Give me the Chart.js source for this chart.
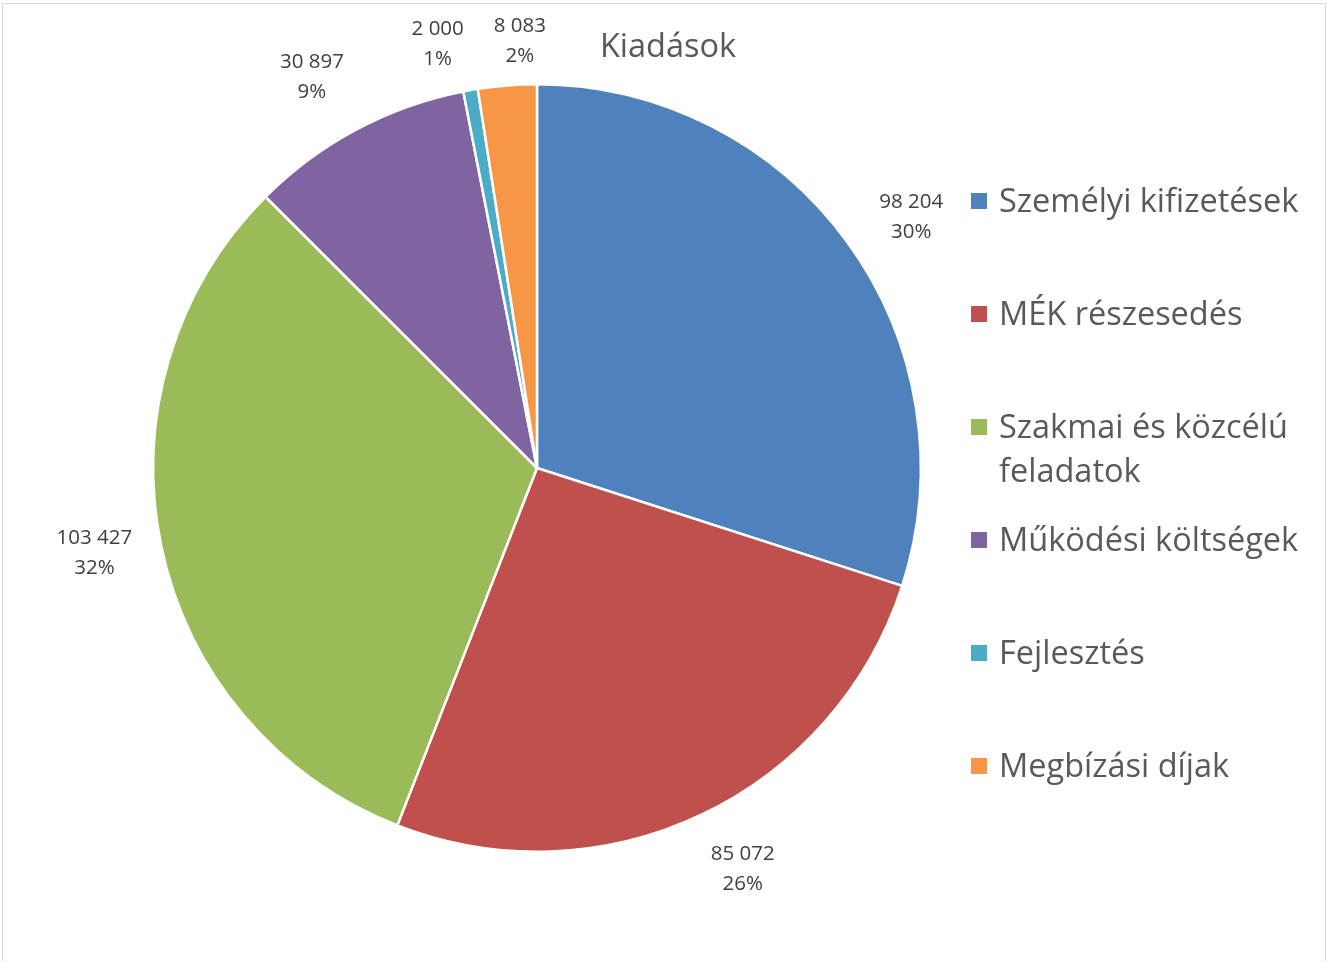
<!DOCTYPE html>
<html>
<head>
<meta charset="utf-8">
<script src="https://cdn.jsdelivr.net/npm/chart.js@4"></script>
<style>
  html, body { margin: 0; padding: 0; background: #fff; }
  #wrap { width: 1329px; height: 961px; position: relative; }
</style>
</head>
<body>
<div id="wrap"><canvas id="pie"></canvas></div>
<script>
var title = 'Kiadások';
var categories = ['Személyi kifizetések', 'MÉK részesedés', 'Szakmai és közcélú feladatok',
                  'Működési költségek', 'Fejlesztés', 'Megbízási díjak'];
var values = [98204, 85072, 103427, 30897, 2000, 8083];
var colors = ['#4f81bd', '#c0504d', '#9bbb59', '#8064a2', '#4bacc6', '#f79646'];

var FONT = '"Open Sans", sans-serif';

function fmt(n) {
    return String(n).replace(/\B(?=(\d{3})+(?!\d))/g, ' ');
}

var total = values.reduce(function (a, b) { return a + b; }, 0);

var extras = {
    id: 'extras',
    afterDraw: function (chart) {
        var c = chart.ctx;
        c.save();
        // frame
        c.strokeStyle = '#d9d9d9';
        c.lineWidth = 1;
        c.strokeRect(2.5, 3.5, 1323, 990);

        // title
        c.fillStyle = '#595959';
        c.font = '32.5px ' + FONT;
        c.textAlign = 'center';
        c.textBaseline = 'middle';
        c.fillText(title, 668, 48);

        // data labels outside the slices
        var meta = chart.getDatasetMeta(0);
        c.font = '20.5px ' + FONT;
        c.fillStyle = '#404040';
        var labs = meta.data.map(function (arc, i) {
            var p = arc.getProps(['x', 'y', 'startAngle', 'endAngle', 'outerRadius'], true);
            var a = (p.startAngle + p.endAngle) / 2;
            a -= 0.04 * Math.sin(2 * a);   // lean a little away from the vertical axis
            var s = Math.abs(Math.cos(a));
            var k = Math.min(1, Math.pow(s / 0.45, 2));
            var d = p.outerRadius + 44 + 23 * k;
            var l1 = fmt(values[i]);
            var l2 = Math.round(values[i] / total * 100) + '%';
            return {
                x: p.x + Math.cos(a) * d,
                y: p.y + Math.sin(a) * d,
                w: Math.max(c.measureText(l1).width, c.measureText(l2).width),
                l1: l1, l2: l2
            };
        });
        // push neighbouring labels apart when they collide
        for (var pass = 0; pass < 3; pass++) {
            for (var i = 0; i < labs.length; i++) {
                var A = labs[i], B = labs[(i + 1) % labs.length];
                if (A === B || Math.abs(A.y - B.y) > 56) continue;
                var need = (A.w + B.w) / 2 + 30;
                var gap = Math.abs(A.x - B.x);
                if (gap < need) {
                    var sh = (need - gap) / 2, dir = A.x < B.x ? 1 : -1;
                    A.x -= sh * dir; B.x += sh * dir;
                }
            }
        }
        labs.forEach(function (L) {
            c.fillText(L.l1, L.x, L.y - 15);
            c.fillText(L.l2, L.x, L.y + 15);
        });

        // legend
        var lx = 971, ty = 201, step = 113, maxW = 330;
        c.textAlign = 'left';
        c.font = '32.5px ' + FONT;
        categories.forEach(function (lab, i) {
            var y = ty + i * step;
            c.fillStyle = colors[i];
            c.fillRect(lx, y - 8, 16, 16);
            c.fillStyle = '#595959';
            var words = lab.split(' '), lines = [], cur = '';
            words.forEach(function (w) {
                var t = cur ? cur + ' ' + w : w;
                if (c.measureText(t).width > maxW && cur) { lines.push(cur); cur = w; }
                else cur = t;
            });
            lines.push(cur);
            lines.forEach(function (ln, j) {
                c.fillText(ln, lx + 28, y + 2 + j * 44);
            });
        });
        c.restore();
    }
};

new Chart(document.getElementById('pie'), {
    type: 'pie',
    data: {
        labels: categories,
        datasets: [{
            data: values,
            backgroundColor: colors,
            borderColor: '#ffffff',
            borderWidth: 2.5
        }]
    },
    options: {
        responsive: true,
        maintainAspectRatio: false,
        animation: false,
        layout: { padding: { left: 152, right: 407, top: 83, bottom: 108 } },
        plugins: {
            legend: { display: false },
            tooltip: { enabled: false }
        }
    },
    plugins: [extras]
});
</script>
</body>
</html>
